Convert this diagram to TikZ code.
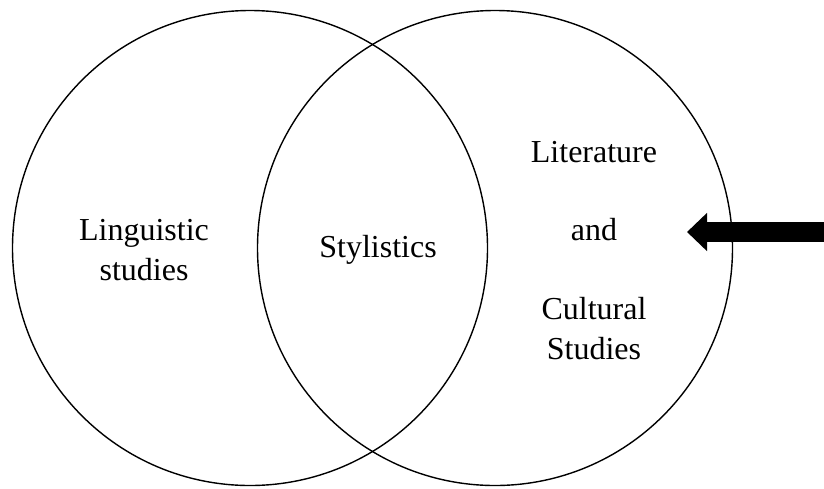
\documentclass[tikz,border=0pt]{standalone}
\usepackage{fontspec}
\setmainfont{Liberation Serif}
\usetikzlibrary{arrows.meta}

\begin{document}
\begin{tikzpicture}[
  x=0.5pt, y=-0.5pt,
  venn/.style={draw, circle, line width=0.7pt, inner sep=0pt, minimum size=237.5pt},
  lbl/.style ={align=center, font=\fontsize{16}{20}\selectfont, inner sep=0pt},
  arr/.style ={-{Triangle[length=10pt, width=18.5pt]}, line width=10pt},
]
\useasboundingbox (0,0) rectangle (824,488);

%% ---- Circles ----
\node[venn] (ling) at (250,248) {};
\node[venn] (lit)  at (495,248) {};

%% ---- Labels ----
\node[lbl] (lingtxt) at (144,250) {Linguistic\\studies};
\node[lbl] (styl)    at (378,250) {Stylistics};
\node[lbl] (littxt)  at (594,152) {Literature};
\node[lbl] (andtxt)  at (594,230) {and};
\node[lbl] (culttxt) at (594,329) {Cultural\\Studies};

%% ---- Pointer from the right edge ----
\coordinate (src) at (824,232);
\coordinate (tip) at (687,232);
\draw[arr] (src) -- (tip);

\end{tikzpicture}
\end{document}
